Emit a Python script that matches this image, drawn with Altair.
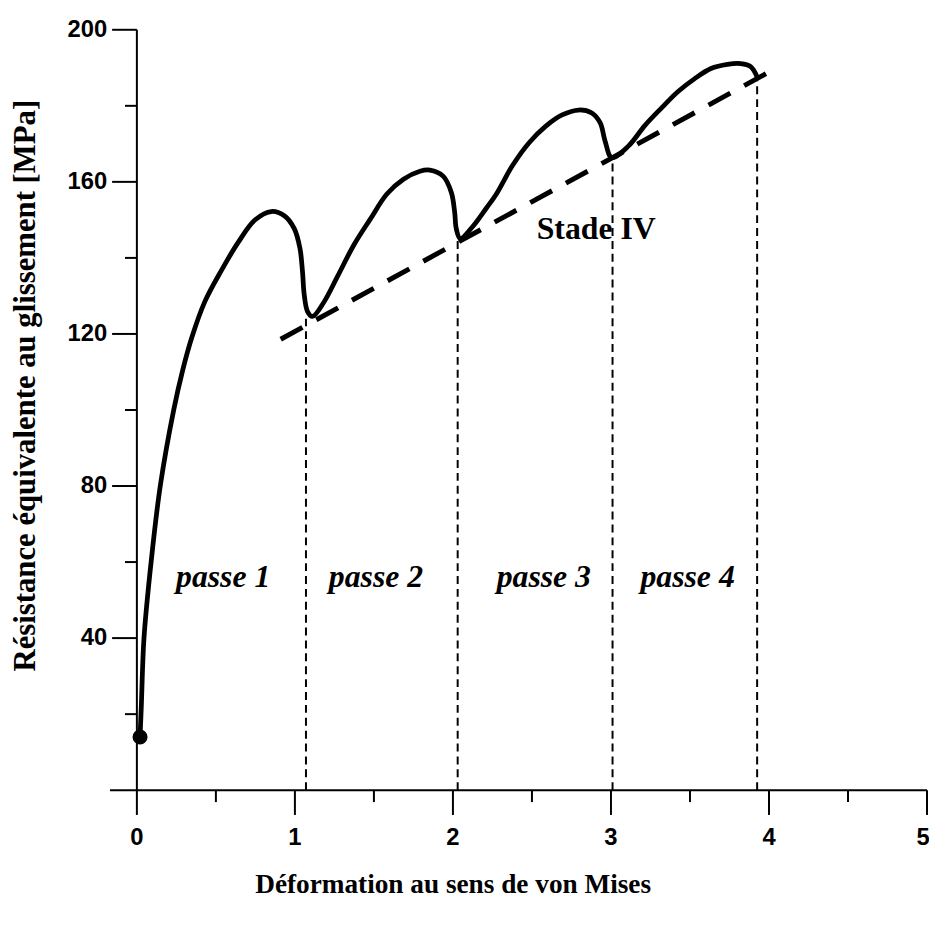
import altair as alt
import pandas as pd

# ---- data ----
curve_x = [0.02, 0.028, 0.045, 0.09, 0.148, 0.233, 0.29, 0.347, 0.43, 0.536, 0.64, 0.745, 0.85,
           0.933, 0.996, 1.032, 1.048, 1.059, 1.08, 1.111, 1.184, 1.268, 1.373, 1.477, 1.582,
           1.687, 1.791, 1.854, 1.938, 1.99, 2.011, 2.021, 2.046, 2.12, 2.21, 2.272, 2.377,
           2.482, 2.586, 2.691, 2.796, 2.879, 2.932, 2.963, 3.005, 3.11, 3.214, 3.319, 3.423,
           3.528, 3.633, 3.737, 3.821, 3.884, 3.925]
curve_y = [14, 22, 40, 60, 80, 100, 110.5, 119, 128.5, 136.8, 144, 149.9, 152.2,
           151.1, 147.7, 142.5, 136.4, 130.3, 125.9, 124.6, 128.4, 135, 143.4, 150.2, 156.8,
           160.7, 162.8, 163.1, 161.5, 157.2, 152, 147.7, 145.1, 148, 153, 156.6, 164.3,
           170.3, 174.6, 177.6, 178.9, 178.1, 175.5, 170.7, 166.4, 169.4, 174.8, 179.4, 183.7,
           187.1, 189.8, 190.9, 191.1, 190.3, 187.6]

stage_x = [0.91, 4.04]
stage_y = [118.6, 189.8]

pass_x = [1.07, 2.03, 3.01, 3.925]
pass_top = [124, 145, 166.5, 187.5]

pass_labels = ["passe 1", "passe 2", "passe 3", "passe 4"]
pass_label_x = [0.546, 1.513, 2.575, 3.485]
pass_label_y = [53.5, 53.5, 53.5, 53.5]

stage_label = ["Stade IV"]
stage_label_x = [2.53]
stage_label_y = [145]

start_x = [0.02]
start_y = [14]

x_major = [0, 1, 2, 3, 4, 5]
x_minor = [0.5, 1.5, 2.5, 3.5, 4.5]
y_major = [40, 80, 120, 160, 200]
y_minor = [20, 60, 100, 140, 180]
x_axis_range = [-0.17, 5]
y_axis_range = [0, 200]

x_title = "Déformation au sens de von Mises"
y_title = "Résistance équivalente au glissement [MPa]"

W, H = 797, 767
xs = alt.Scale(domain=[0, 5], nice=False, zero=False)
ys = alt.Scale(domain=[0, 200], nice=False, zero=False)

curve_df = pd.DataFrame({"x": curve_x, "y": curve_y, "i": range(len(curve_x))})
stage_df = pd.DataFrame({"x": stage_x, "y": stage_y})
pass_df = pd.DataFrame({"x": pass_x, "base": [0] * len(pass_x), "top": pass_top})
plab_df = pd.DataFrame({"x": pass_label_x, "y": pass_label_y, "t": pass_labels})
slab_df = pd.DataFrame({"x": stage_label_x, "y": stage_label_y, "t": stage_label})
start_df = pd.DataFrame({"x": start_x, "y": start_y})
xmaj_df = pd.DataFrame({"v": x_major, "t": [str(v) for v in x_major]})
ymaj_df = pd.DataFrame({"v": y_major, "t": [str(v) for v in y_major]})
xmin_df = pd.DataFrame({"v": x_minor})
ymin_df = pd.DataFrame({"v": y_minor})
xdom_df = pd.DataFrame({"x": [x_axis_range[0]], "x2": [x_axis_range[1]], "y": [0]})
ydom_df = pd.DataFrame({"x": [0], "y": [y_axis_range[0]], "y2": [y_axis_range[1]]})
xt_df = pd.DataFrame({"t": [x_title]})
yt_df = pd.DataFrame({"t": [y_title]})


def X(f):
    return alt.X(f, scale=xs, axis=None)


def Y(f):
    return alt.Y(f, scale=ys, axis=None)


curve = alt.Chart(curve_df).mark_line(color="black", strokeWidth=4.8, interpolate="catmull-rom").encode(
    x=X("x:Q"), y=Y("y:Q"), order="i:Q",
)

stage = alt.Chart(stage_df).mark_line(color="black", strokeWidth=5, strokeDash=[25, 16]).encode(
    x=X("x:Q"), y=Y("y:Q"),
)

verticals = alt.Chart(pass_df).mark_rule(color="black", strokeWidth=2, strokeDash=[8, 5]).encode(
    x=X("x:Q"), y=Y("base:Q"), y2="top:Q",
)

dot = alt.Chart(start_df).mark_point(filled=True, size=230, color="black", opacity=1).encode(
    x=X("x:Q"), y=Y("y:Q"),
)

plabels = alt.Chart(plab_df).mark_text(
    font="Liberation Serif", fontSize=32, fontWeight="bold", fontStyle="italic",
    align="center", baseline="alphabetic", color="black",
).encode(x=X("x:Q"), y=Y("y:Q"), text="t:N")

slabel = alt.Chart(slab_df).mark_text(
    font="Liberation Serif", fontSize=32, fontWeight="bold",
    align="left", baseline="alphabetic", color="black",
).encode(x=X("x:Q"), y=Y("y:Q"), text="t:N")

# axes drawn by hand through the same scales
xdom = alt.Chart(xdom_df).mark_rule(color="black", strokeWidth=2).encode(
    x=X("x:Q"), x2="x2:Q", y=Y("y:Q"),
)
ydom = alt.Chart(ydom_df).mark_rule(color="black", strokeWidth=2).encode(
    x=X("x:Q"), y=Y("y:Q"), y2="y2:Q",
)
xmajor = alt.Chart(xmaj_df).mark_rule(color="black", strokeWidth=2).encode(
    x=X("v:Q"), y=alt.value(H), y2=alt.value(H + 25),
)
xminor = alt.Chart(xmin_df).mark_rule(color="black", strokeWidth=2).encode(
    x=X("v:Q"), y=alt.value(H), y2=alt.value(H + 12),
)
ymajor = alt.Chart(ymaj_df).mark_rule(color="black", strokeWidth=2).encode(
    y=Y("v:Q"), x=alt.value(0), x2=alt.value(-25),
)
yminor = alt.Chart(ymin_df).mark_rule(color="black", strokeWidth=2).encode(
    y=Y("v:Q"), x=alt.value(0), x2=alt.value(-12),
)
label_style = dict(font="Liberation Sans", fontWeight="bold", fontSize=24, color="black")
xlabels = alt.Chart(xmaj_df).transform_filter("datum.v < 5").mark_text(
    align="center", baseline="top", **label_style,
).encode(x=X("v:Q"), y=alt.value(H + 36), text="t:N")
xlabel_last = alt.Chart(xmaj_df).transform_filter("datum.v >= 5").mark_text(
    align="center", baseline="top", dx=-4, **label_style,
).encode(x=X("v:Q"), y=alt.value(H + 36), text="t:N")
ylabels = alt.Chart(ymaj_df).mark_text(
    align="right", baseline="middle", **label_style,
).encode(y=Y("v:Q"), x=alt.value(-30), text="t:N")
xtitle = alt.Chart(xt_df).mark_text(
    font="Liberation Serif", fontWeight="bold", fontSize=27.5, color="black",
    align="center", baseline="alphabetic",
).encode(x=alt.value(319), y=alt.value(H + 104), text="t:N")
ytitle = alt.Chart(yt_df).mark_text(
    font="Liberation Serif", fontWeight="bold", fontSize=31, color="black",
    align="center", baseline="middle", angle=270,
).encode(x=alt.value(-112), y=alt.value(359), text="t:N")

chart = alt.layer(
    xdom, ydom, xmajor, xminor, ymajor, yminor, xlabels, xlabel_last, ylabels, xtitle, ytitle,
    verticals, stage, curve, dot, plabels, slabel,
).properties(
    width=W, height=H,
    autosize=alt.AutoSizeParams(type="none"),
    padding={"left": 130, "top": 18, "right": 2, "bottom": 130},
    background="white",
).configure_view(stroke=None)

chart.save("out.html", embed_options={"renderer": "svg", "actions": False})
